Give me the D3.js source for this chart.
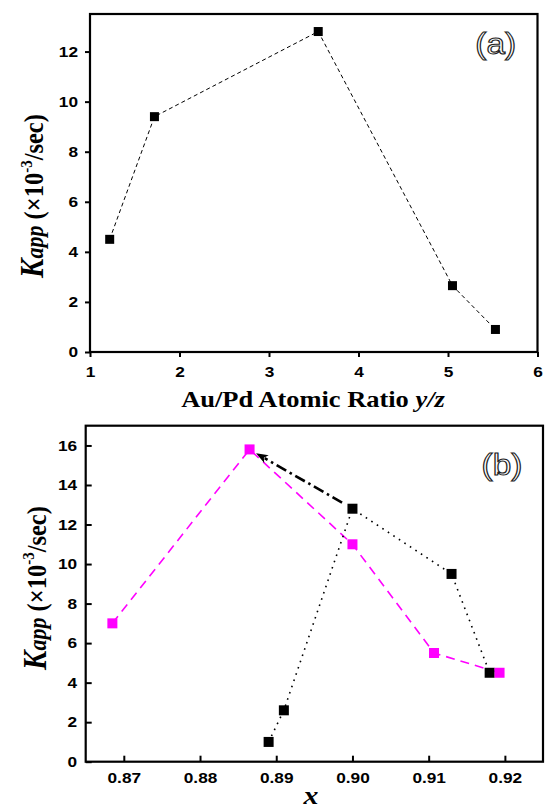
<!DOCTYPE html>
<html>
<head>
<meta charset="utf-8">
<script src="https://cdn.jsdelivr.net/npm/d3@7/dist/d3.min.js"></script>
<style>
  html, body { margin: 0; padding: 0; background: #fff; }
  svg { display: block; }
  .tick text { font-family: "Liberation Sans", Arial, sans-serif; font-weight: bold; font-size: 15px; fill: #000; }
  .tick line { stroke: #000; stroke-width: 2; }
  .title { font-family: "Liberation Serif", "Times New Roman", serif; font-weight: bold; fill: #000; }
  .panel-tag { font-family: "Liberation Sans", Arial, sans-serif; font-size: 29px; fill: #fff; stroke: #222; stroke-width: 1.1; }
</style>
</head>
<body>
<svg id="chart" width="545" height="809"></svg>
<script>
// (a) rate constant vs Au/Pd atomic ratio
const ratioA = [1.22, 1.72, 3.55, 5.05, 5.53];
const kappA  = [4.5, 9.4, 12.8, 2.65, 0.9];

// (b) rate constant vs x, two sample series
const xBlack   = [0.889, 0.891, 0.900, 0.913, 0.918];
const kBlack   = [1.0, 2.6, 12.8, 9.5, 4.5];
const xMagenta = [0.8685, 0.8865, 0.900, 0.9107, 0.9193];
const kMagenta = [7.0, 15.8, 11.0, 5.5, 4.5];

// tick labels
const xTicksA = [1, 2, 3, 4, 5, 6];
const yTicksA = [0, 2, 4, 6, 8, 10, 12];
const xMinorA = [1.5, 2.5, 3.5, 4.5, 5.5];
const yMinorA = [1, 3, 5, 7, 9, 11, 13];
const xTicksB = [0.87, 0.88, 0.89, 0.90, 0.91, 0.92];
const yTicksB = [0, 2, 4, 6, 8, 10, 12, 14, 16];
const xMinorB = [0.875, 0.885, 0.895, 0.905, 0.915];
const yMinorB = [1, 3, 5, 7, 9, 11, 13, 15];

const SX = 1.15; // horizontal widening of lettering

const svg = d3.select("#chart");
svg.append("rect").attr("width", 545).attr("height", 809).attr("fill", "#fff");

const xA = d3.scaleLinear().domain([1, 6]).range([90, 537.5]);
const yA = d3.scaleLinear().domain([0, 13.5]).range([352, 14]);
const xB = d3.scaleLinear().domain([0.865, 0.925]).range([85.7, 543]);
const yB = d3.scaleLinear().domain([0, 17]).range([761.7, 425.7]);

function widenBottom(g) {
  g.selectAll(".tick text").attr("transform", `scale(${SX},1)`);
}
function widenLeft(g) {
  g.selectAll(".tick text")
    .attr("transform", `scale(${SX},1)`)
    .attr("x", function () { return +this.getAttribute("x") / SX; });
}

function drawAxes(x, y, o) {
  const [x0, x1] = x.range();
  const [y0, y1] = y.range();
  const gx = svg.append("g").attr("transform", `translate(0,${y0})`);
  gx.call(d3.axisBottom(x).tickValues(o.xMinor).tickSize(o.minor).tickFormat(""));
  gx.call(d3.axisBottom(x).tickValues(o.xTicks).tickSize(o.major).tickPadding(o.xPad).tickFormat(o.xFmt));
  gx.selectAll(".domain").remove();
  widenBottom(gx);

  const gy = svg.append("g").attr("transform", `translate(${x0},0)`);
  gy.call(d3.axisLeft(y).tickValues(o.yMinor).tickSize(o.minor).tickFormat(""));
  gy.call(d3.axisLeft(y).tickValues(o.yTicks).tickSize(o.major).tickPadding(o.yPad).tickFormat(d3.format("d")));
  gy.selectAll(".domain").remove();
  widenLeft(gy);

  svg.append("rect")
    .attr("x", x0).attr("y", y1)
    .attr("width", x1 - x0).attr("height", y0 - y1)
    .attr("fill", "none").attr("stroke", "#000").attr("stroke-width", 2.2);
}

// ---------- panel (a) ----------
drawAxes(xA, yA, {
  xTicks: xTicksA, yTicks: yTicksA, xMinor: xMinorA, yMinor: yMinorA,
  major: 5, minor: 3, xPad: 9, yPad: 7, xFmt: d3.format("d")
});

const ptsA = ratioA.map((r, i) => [r, kappA[i]]);
svg.append("path")
  .attr("d", d3.line().x(d => xA(d[0])).y(d => yA(d[1]))(ptsA))
  .attr("fill", "none").attr("stroke", "#000").attr("stroke-width", 1)
  .attr("stroke-dasharray", "4,3");
svg.append("g").selectAll("rect").data(ptsA).join("rect")
  .attr("x", d => xA(d[0]) - 4.5).attr("y", d => yA(d[1]) - 4.5)
  .attr("width", 9).attr("height", 9).attr("fill", "#000");

// ---------- panel (b) ----------
drawAxes(xB, yB, {
  xTicks: xTicksB, yTicks: yTicksB, xMinor: xMinorB, yMinor: yMinorB,
  major: -6, minor: -4, xPad: 11, yPad: 8.5, xFmt: d3.format(".2f")
});

const ptsBlack = xBlack.map((v, i) => [v, kBlack[i]]);
const ptsMag = xMagenta.map((v, i) => [v, kMagenta[i]]);
const lineB = d3.line().x(d => xB(d[0])).y(d => yB(d[1]));

svg.append("path").attr("d", lineB(ptsMag))
  .attr("fill", "none").attr("stroke", "#ff00ff").attr("stroke-width", 1.6)
  .attr("stroke-dasharray", "9,6");
svg.append("path").attr("d", lineB(ptsBlack))
  .attr("fill", "none").attr("stroke", "#000").attr("stroke-width", 1.6)
  .attr("stroke-dasharray", "1.6,5");

// arrow from the black peak to the magenta peak
const peakB = ptsBlack[kBlack.indexOf(d3.max(kBlack))];
const peakM = ptsMag[kMagenta.indexOf(d3.max(kMagenta))];
const sx = xB(peakB[0]), sy = yB(peakB[1]);
const ex = xB(peakM[0]), ey = yB(peakM[1]);
const len = Math.hypot(ex - sx, ey - sy);
const ux = (ex - sx) / len, uy = (ey - sy) / len;
const ax0 = sx + ux * 12, ay0 = sy + uy * 12;
const tipX = ex - ux * 7.5, tipY = ey - uy * 7.5;
const headL = 12, headW = 4.5;
const bx = tipX - ux * headL, by = tipY - uy * headL;
svg.append("line")
  .attr("x1", ax0).attr("y1", ay0).attr("x2", bx + ux * 2).attr("y2", by + uy * 2)
  .attr("stroke", "#000").attr("stroke-width", 2.6)
  .attr("stroke-dasharray", "11,4,2.5,4");
svg.append("path")
  .attr("d", `M${tipX},${tipY}L${bx - uy * headW},${by + ux * headW}L${bx + ux * 3},${by + uy * 3}L${bx + uy * headW},${by - ux * headW}Z`)
  .attr("fill", "#000");

svg.append("g").selectAll("rect").data(ptsBlack).join("rect")
  .attr("x", d => xB(d[0]) - 5).attr("y", d => yB(d[1]) - 5)
  .attr("width", 10).attr("height", 10).attr("fill", "#000");
svg.append("g").selectAll("rect").data(ptsMag).join("rect")
  .attr("x", d => xB(d[0]) - 5).attr("y", d => yB(d[1]) - 5)
  .attr("width", 10).attr("height", 10).attr("fill", "#ff00ff");

// ---------- titles ----------
function yTitle(tx, ty) {
  const t = svg.append("text").attr("class", "title")
    .attr("transform", `translate(${tx},${ty}) scale(${SX},1) rotate(-90)`)
    .attr("text-anchor", "middle").attr("font-size", 24.5);
  t.append("tspan").attr("font-style", "italic").attr("font-size", 29).text("K");
  t.append("tspan").attr("font-style", "italic").attr("font-size", 22).text("app");
  t.append("tspan").text(" (\u00d710");
  t.append("tspan").attr("font-size", 15).attr("dy", -10).text("-3");
  t.append("tspan").attr("dy", 10).text("/sec)");
}
yTitle(43, 196);
yTitle(45.5, 588);

const xt = svg.append("text").attr("class", "title")
  .attr("transform", `translate(313,406.5) scale(${SX},1)`)
  .attr("text-anchor", "middle").attr("font-size", 23);
xt.append("tspan").text("Au/Pd Atomic Ratio ");
xt.append("tspan").attr("font-style", "italic").text("y/z");

svg.append("text").attr("class", "title")
  .attr("transform", `translate(311,804) scale(${SX},1)`)
  .attr("text-anchor", "middle").attr("font-size", 26).attr("font-style", "italic")
  .text("x");

svg.append("text").attr("class", "panel-tag")
  .attr("transform", `translate(495.7,54) scale(${SX},1)`)
  .attr("text-anchor", "middle").text("(a)");
svg.append("text").attr("class", "panel-tag")
  .attr("transform", `translate(502,475) scale(${SX},1)`)
  .attr("text-anchor", "middle").text("(b)");
</script>
</body>
</html>
